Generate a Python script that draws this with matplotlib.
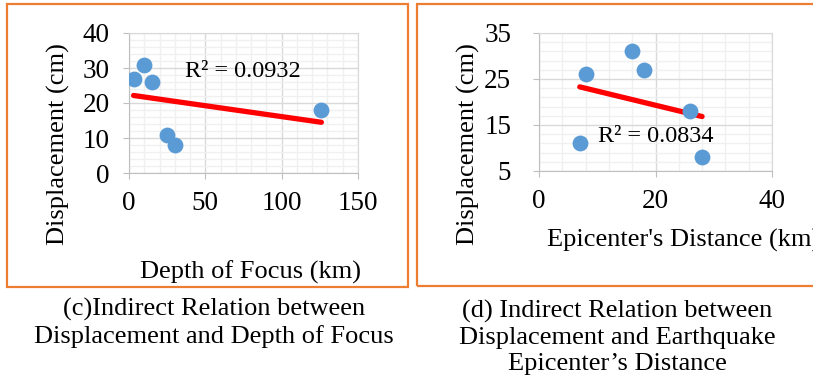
import numpy as np
import matplotlib
matplotlib.use('Agg')
import matplotlib.pyplot as plt
from matplotlib.ticker import MultipleLocator
from matplotlib.patches import Rectangle

plt.rcParams['font.family'] = ['Liberation Serif', 'DejaVu Serif']

# data
depth = [3, 10, 15, 25, 30, 126]
disp_depth = [27, 31, 26, 11, 8, 18]

dist = [7, 8, 16, 18, 26, 28]
disp_dist = [11, 26, 31, 27, 18, 8]

blue = '#5B9BD5'
orange = '#ED7D31'

fig = plt.figure(figsize=(8.13, 3.87), dpi=100)


def panel(ax, x, y, xlim, ylim, xmaj, ymaj, r2_pos, ypad):
    x = np.array(x, float)
    y = np.array(y, float)
    ax.set_xlim(*xlim)
    ax.set_ylim(*ylim)
    ax.xaxis.set_major_locator(MultipleLocator(xmaj, offset=xlim[0]))
    ax.xaxis.set_minor_locator(MultipleLocator(xmaj / 5, offset=xlim[0]))
    ax.yaxis.set_major_locator(MultipleLocator(ymaj, offset=ylim[0]))
    ax.yaxis.set_minor_locator(MultipleLocator(ymaj / 5, offset=ylim[0]))
    ax.grid(which='minor', color='#f0f0f0', lw=1.0)
    ax.grid(which='major', color='#d9d9d9', lw=1.0)
    ax.set_axisbelow(True)
    for s in ax.spines.values():
        s.set_color('#d9d9d9')
    ax.spines['left'].set_color('#bfbfbf')
    ax.spines['bottom'].set_color('#bfbfbf')
    ax.tick_params(which='major', length=4, color='#bfbfbf', labelsize=19.5)
    ax.tick_params(which='minor', length=0)
    ax.tick_params(axis='x', pad=9)
    ax.tick_params(axis='y', pad=ypad)

    # linear trendline
    k, b = np.polyfit(x, y, 1)
    xs = np.array([x.min(), x.max()])
    ax.plot(xs, k * xs + b, color='red', lw=3.8, solid_capstyle='round', zorder=2)
    ax.scatter(x, y, s=130, color=blue, zorder=3, linewidths=0)
    r2 = np.corrcoef(x, y)[0, 1] ** 2
    ax.text(r2_pos[0], r2_pos[1], 'R² = %.4f' % r2, fontsize=17.5,
            ha='left', va='center', zorder=4)


ax1 = fig.add_axes([129 / 813, 1 - 173 / 387, 229 / 813, 140 / 387])
panel(ax1, depth, disp_depth, (0, 150), (0, 40), 50, 10, (37, 29), 10)

ax2 = fig.add_axes([539 / 813, 1 - 171 / 387, 233 / 813, 138 / 387])
panel(ax2, dist, disp_dist, (0, 40), (5, 35), 20, 10, (10.2, 12.4), 16)

# orange frames
fig.add_artist(Rectangle((7 / 813, 1 - 287 / 387), 401 / 813, 283 / 387,
                         transform=fig.transFigure, fill=False, ec=orange, lw=1.6))
fig.add_artist(Rectangle((417 / 813, 1 - 286 / 387), 420 / 813, 282 / 387,
                         transform=fig.transFigure, fill=False, ec=orange, lw=1.6))

# axis titles
fig.text(58 / 813, 1 - 144 / 387, 'Displacement (cm)', rotation=90,
         ha='center', va='center', fontsize=19)
fig.text(250 / 813, 1 - 272 / 387, 'Depth of Focus (km)',
         ha='center', va='center', fontsize=19)
fig.text(468 / 813, 1 - 144 / 387, 'Displacement (cm)', rotation=90,
         ha='center', va='center', fontsize=19)
# cut off at the right edge, as in the original
fig.text(547 / 813, 1 - 240 / 387, "Epicenter's Distance (km)",
         ha='left', va='center', fontsize=19)

# captions
fig.text(214 / 813, 1 - 322.5 / 387, '(c)Indirect Relation between\nDisplacement and Depth of Focus',
         ha='center', va='center', fontsize=19, linespacing=1.22)
fig.text(617 / 813, 1 - 337.5 / 387,
         '(d) Indirect Relation between\nDisplacement and Earthquake\nEpicenter\u2019s Distance',
         ha='center', va='center', fontsize=19, linespacing=1.22)

fig.savefig('out.png', dpi=100)
